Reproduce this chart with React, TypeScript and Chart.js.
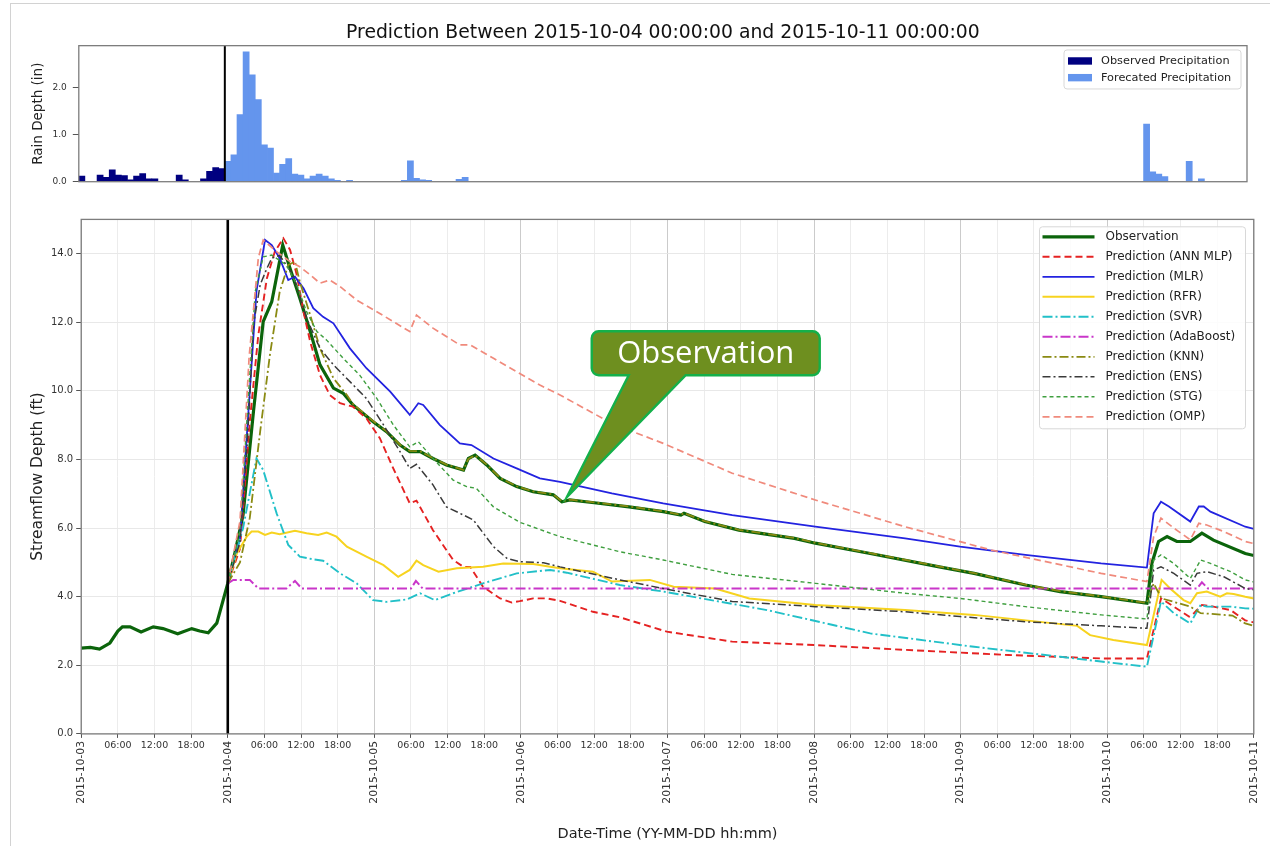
import React, { useEffect, useRef } from 'react';
import { Chart, registerables } from 'chart.js';

Chart.register(...registerables);

const FONT = "'DejaVu Sans', 'Liberation Sans', sans-serif";
const CALLOUT_FONT = "'Open Sans', 'Noto Sans', sans-serif";

// ---------- text ----------
const CHART_TITLE = 'Prediction Between 2015-10-04 00:00:00 and 2015-10-11 00:00:00';
const RAIN_AXIS_TITLE = 'Rain Depth (in)';
const FLOW_AXIS_TITLE = 'Streamflow Depth (ft)';
const TIME_AXIS_TITLE = 'Date-Time (YY-MM-DD hh:mm)';
const CALLOUT_TEXT = 'Observation';
const DAY_LABELS = ['2015-10-03', '2015-10-04', '2015-10-05', '2015-10-06', '2015-10-07', '2015-10-08', '2015-10-09', '2015-10-10', '2015-10-11'];
const HOUR_LABELS = ['06:00', '12:00', '18:00'];

// ---------- axis ranges (hours since 2015-10-03 00:00) ----------
const HOUR_MIN = 0;
const HOUR_MAX = 192;
const FORECAST_START_HOUR = 24;
const RAIN_MAX = 2.88;
const FLOW_MAX = 15;
const CALLOUT_TIP: [number, number] = [79.5, 6.9];

type Pt = [number, number];

// ---------- precipitation (hour, inches) ----------
const OBSERVED_PRECIP: Pt[] = [
  [0, 0.12], [3, 0.14], [4, 0.09], [5, 0.25], [6, 0.14], [7, 0.13], [8, 0.04], [9, 0.12], [10, 0.17],
  [11, 0.06], [12, 0.06], [16, 0.14], [17, 0.04], [20, 0.06], [21, 0.22], [22, 0.30], [23, 0.28],
];
const FORECAST_PRECIP: Pt[] = [
  [24, 0.43], [25, 0.57], [26, 1.42], [27, 2.75], [28, 2.26], [29, 1.74], [30, 0.78], [31, 0.71], [32, 0.18],
  [33, 0.37], [34, 0.49], [35, 0.16], [36, 0.14], [37, 0.06], [38, 0.12], [39, 0.16], [40, 0.12], [41, 0.06],
  [42, 0.03], [44, 0.03], [53, 0.03], [54, 0.44], [55, 0.07], [56, 0.04], [57, 0.03], [62, 0.05], [63, 0.09],
  [175, 1.22], [176, 0.21], [177, 0.16], [178, 0.11], [182, 0.43], [184, 0.06],
];

// ---------- streamflow depth (hour, ft) ----------
const OBSERVATION: Pt[] = [
  [0, 2.5], [1.5, 2.52], [3, 2.47], [4.7, 2.65], [6, 3.0], [6.75, 3.12], [8, 3.12], [9.8, 2.97], [11.8, 3.12],
  [13.4, 3.07], [15.8, 2.92], [18.1, 3.07], [19.4, 3.0], [20.8, 2.95], [22.2, 3.23], [24, 4.39], [25.2, 5.3],
  [26.5, 6.38], [28.2, 9.39], [29.8, 12.02], [31.2, 12.6], [33, 14.25], [34.2, 13.57], [35.8, 12.7], [37.5, 11.73],
  [39.1, 10.76], [41.3, 10.08], [42.9, 9.93], [44.5, 9.59], [47.8, 9.1], [50, 8.81], [52.2, 8.42], [53.8, 8.23],
  [55.5, 8.23], [57.6, 8.03], [59.8, 7.84], [62.6, 7.69], [63.4, 8.03], [64.5, 8.13], [66.4, 7.84], [68.6, 7.45],
  [71.3, 7.21], [74, 7.06], [77.3, 6.97], [78.7, 6.77], [80, 6.82], [84, 6.74], [89.7, 6.62], [95.3, 6.48],
  [98.2, 6.38], [98.7, 6.43], [102.1, 6.19], [107.7, 5.94], [116.8, 5.7], [120.2, 5.56], [129.2, 5.26],
  [140.5, 4.87], [146.2, 4.68], [154.6, 4.34], [160.3, 4.15], [167, 4.0], [174.5, 3.81], [175.3, 4.97],
  [176.4, 5.61], [177.8, 5.75], [179.4, 5.61], [181.6, 5.61], [183.5, 5.85], [185.4, 5.65], [190.6, 5.26], [192, 5.2],
];
const ANN_MLP: Pt[] = [
  [24, 4.39], [26, 5.4], [27.6, 9.1], [29, 11.63], [30.4, 13.28], [31.7, 14.06], [33.1, 14.45], [34.2, 14.11],
  [35.3, 13.38], [36.4, 12.31], [37.5, 11.43], [39.1, 10.46], [40.7, 9.88], [42.4, 9.64], [44.5, 9.54], [46.7, 9.2],
  [48.9, 8.62], [51.1, 7.74], [53.8, 6.72], [54.9, 6.8], [57.6, 5.94], [60.9, 5.07], [62.6, 4.87], [63.7, 4.87],
  [65.8, 4.29], [68.6, 3.95], [70.5, 3.83], [71.8, 3.87], [74, 3.95], [76.2, 3.95], [78.4, 3.88], [83.8, 3.56],
  [88.2, 3.4], [95.9, 2.98], [106.6, 2.69], [120.2, 2.59], [134.9, 2.45], [151.8, 2.3], [167, 2.2], [174.5, 2.2],
  [176.8, 3.95], [178.9, 3.71], [181.4, 3.42], [182.2, 3.52], [183.5, 3.76], [185.4, 3.71], [188.2, 3.61],
  [190.6, 3.31], [192, 3.25],
];
const MLR: Pt[] = [
  [24, 4.39], [26, 5.7], [27.6, 9.98], [28.7, 12.9], [30.1, 14.4], [31.2, 14.25], [32.5, 13.87], [33.9, 13.23],
  [35, 13.33], [36.4, 12.99], [38, 12.41], [39.6, 12.16], [41.3, 11.97], [44, 11.24], [46.7, 10.66], [50.6, 9.98],
  [53.8, 9.3], [55.2, 9.64], [56, 9.59], [58.7, 9.01], [62, 8.47], [63.9, 8.42], [67.5, 8.03], [71.3, 7.74],
  [75.1, 7.45], [78.4, 7.35], [86.9, 7.01], [95.3, 6.72], [106.6, 6.38], [120.2, 6.04], [134.9, 5.7], [143.9, 5.46],
  [154.6, 5.22], [167, 4.97], [174.5, 4.85], [175.6, 6.43], [176.8, 6.77], [178.1, 6.63], [181.6, 6.19], [183, 6.63],
  [183.8, 6.63], [184.9, 6.48], [190.6, 6.04], [192, 5.98],
];
const RFR: Pt[] = [
  [24, 4.39], [25.5, 5.27], [27.1, 5.75], [27.9, 5.9], [29, 5.9], [30.1, 5.8], [31.2, 5.87], [32.5, 5.82], [35, 5.92],
  [36.9, 5.85], [38.8, 5.8], [40.2, 5.87], [41.8, 5.75], [43.5, 5.46], [46.7, 5.17], [49.5, 4.92], [51.9, 4.58],
  [53.8, 4.78], [54.9, 5.05], [56, 4.92], [58.5, 4.73], [61.5, 4.83], [65.8, 4.87], [69.1, 4.97], [74, 4.95],
  [76.8, 4.87], [78.4, 4.83], [83.8, 4.73], [86.9, 4.44], [93.1, 4.49], [97, 4.29], [103.8, 4.24], [109.4, 3.95],
  [120.2, 3.76], [134.9, 3.61], [146.2, 3.47], [163.1, 3.15], [165.2, 2.88], [169, 2.74], [174.5, 2.59],
  [176.9, 4.49], [178.3, 4.24], [180.5, 3.9], [181.6, 3.81], [182.7, 4.1], [184.3, 4.15], [186.5, 4.0],
  [187.6, 4.1], [188.7, 4.08], [190.6, 4.0], [192, 3.95],
];
const SVR: Pt[] = [
  [24, 4.39], [26.5, 6.0], [28.7, 8.03], [29.8, 7.69], [32, 6.43], [33.9, 5.51], [35.8, 5.17], [38, 5.09],
  [39.6, 5.05], [42.4, 4.68], [45.1, 4.39], [47.8, 3.9], [50, 3.85], [53.3, 3.92], [55.5, 4.1], [57.9, 3.9],
  [60.9, 4.1], [65.8, 4.39], [71.3, 4.68], [76.8, 4.78], [79.5, 4.7], [88.2, 4.34], [95.3, 4.15], [112.3, 3.61],
  [129.2, 2.93], [146.2, 2.54], [160.3, 2.25], [167, 2.11], [174.5, 1.96], [176.8, 3.86], [178.9, 3.52],
  [181.6, 3.22], [183.3, 3.76], [184.3, 3.71], [188.2, 3.71], [190.6, 3.66], [192, 3.65],
];
const ADABOOST: Pt[] = [
  [24, 4.39], [24.9, 4.49], [27.6, 4.49], [29, 4.24], [33.6, 4.24], [35, 4.46], [36.1, 4.24], [54, 4.24],
  [54.8, 4.46], [55.9, 4.24], [175, 4.24], [182.7, 4.24], [183.5, 4.42], [184.5, 4.24], [192, 4.24],
];
const KNN: Pt[] = [
  [24, 4.39], [26, 5.0], [27.6, 6.29], [29.3, 8.81], [30.9, 11.05], [32.5, 12.89], [33.9, 13.67], [35, 13.77],
  [35.8, 13.18], [37.5, 12.21], [39.1, 11.24], [41.3, 10.37], [43.5, 9.88], [44.5, 9.62], [47.8, 9.12], [50, 8.82],
  [52.2, 8.43], [53.8, 8.25], [55.5, 8.24], [57.6, 8.04], [59.8, 7.85], [62.6, 7.7], [63.4, 8.02], [64.5, 8.12],
  [66.4, 7.85], [68.6, 7.46], [71.3, 7.22], [74, 7.07], [77.3, 6.98], [78.7, 6.78], [80, 6.83], [84, 6.75],
  [89.7, 6.63], [95.3, 6.49], [98.2, 6.39], [98.7, 6.44], [102.1, 6.2], [107.7, 5.95], [116.8, 5.71], [120.2, 5.57],
  [129.2, 5.27], [140.5, 4.88], [146.2, 4.69], [154.6, 4.35], [160.3, 4.16], [167, 4.01], [174.5, 3.82],
  [175.6, 4.39], [176.9, 3.95], [178.9, 3.85], [181.6, 3.71], [183.3, 3.52], [185, 3.5], [187.1, 3.47],
  [188.5, 3.45], [190.6, 3.22], [192, 3.15],
];
const ENS: Pt[] = [
  [24, 4.39], [26, 5.6], [27.2, 8.5], [28.2, 11.92], [29.3, 13.09], [30.4, 13.57], [31.2, 13.87], [32.5, 13.95],
  [34.7, 13.38], [36.9, 12.12], [39.1, 11.24], [41.3, 10.76], [44, 10.27], [46.7, 9.78], [49.5, 9.01], [52.2, 8.23],
  [53.8, 7.74], [54.9, 7.86], [57.6, 7.26], [59.8, 6.62], [62.6, 6.38], [64.2, 6.24], [67.5, 5.46], [69.7, 5.12],
  [71.8, 5.02], [75.7, 4.99], [78.4, 4.87], [88.2, 4.49], [95.3, 4.24], [106.6, 3.86], [120.2, 3.71],
  [134.9, 3.56], [143.9, 3.42], [154.6, 3.27], [167, 3.15], [174.5, 3.08], [175.6, 4.78], [176.8, 4.87],
  [178.9, 4.68], [181.6, 4.34], [182.7, 4.68], [184.3, 4.73], [187.1, 4.58], [190.6, 4.24], [192, 4.2],
];
const STG: Pt[] = [
  [24, 4.39], [26, 5.9], [27.5, 10.2], [28.5, 12.9], [29.8, 13.91], [31.2, 13.96], [33.6, 13.67], [35.3, 13.1],
  [36.9, 12.31], [38.6, 11.73], [40.2, 11.48], [42.9, 10.95], [45.6, 10.46], [48.4, 9.78], [51.1, 9.01],
  [53.8, 8.37], [55.2, 8.52], [57.6, 8.03], [60.9, 7.4], [63.1, 7.21], [64.7, 7.16], [67.5, 6.62], [71.8, 6.17],
  [78.4, 5.75], [88.2, 5.31], [95.3, 5.07], [106.6, 4.65], [120.2, 4.39], [134.9, 4.1], [143.9, 3.95],
  [154.6, 3.71], [167, 3.47], [174.5, 3.35], [175.6, 5.07], [176.8, 5.22], [178.9, 4.97], [181.6, 4.53],
  [183.3, 5.07], [184.9, 4.97], [188.2, 4.73], [190.6, 4.49], [192, 4.43],
];
const OMP: Pt[] = [
  [24, 4.39], [26, 6.2], [27.5, 11.0], [29, 13.87], [29.8, 14.4], [32, 14.06], [34.2, 13.77], [35.8, 13.62],
  [37.5, 13.38], [39.1, 13.14], [40.7, 13.23], [42.4, 13.04], [45.1, 12.65], [48.4, 12.31], [51.1, 12.02],
  [53.8, 11.73], [54.9, 12.21], [57.6, 11.83], [62, 11.34], [63.7, 11.34], [67.5, 10.95], [75.1, 10.17],
  [78.4, 9.88], [86.9, 9.05], [95.3, 8.47], [106.6, 7.6], [120.2, 6.82], [134.9, 6.04], [149, 5.36], [167, 4.68],
  [174.5, 4.44], [175.6, 5.75], [176.8, 6.29], [178.9, 6.0], [181.6, 5.66], [183, 6.14], [184.3, 6.09],
  [187.1, 5.9], [190.6, 5.61], [192, 5.55],
];

// ---------- series styling ----------
const FLOW_SERIES = [
  { label: 'Observation', data: OBSERVATION, color: '#0b640b', width: 3.2, dash: [] as number[] },
  { label: 'Prediction (ANN MLP)', data: ANN_MLP, color: '#e52222', width: 1.9, dash: [7, 4] },
  { label: 'Prediction (MLR)', data: MLR, color: '#2323e0', width: 1.8, dash: [] as number[] },
  { label: 'Prediction (RFR)', data: RFR, color: '#f7d31f', width: 2.0, dash: [] as number[] },
  { label: 'Prediction (SVR)', data: SVR, color: '#22c0c8', width: 1.9, dash: [10, 3, 2, 3] },
  { label: 'Prediction (AdaBoost)', data: ADABOOST, color: '#c936c9', width: 2.0, dash: [10, 3, 2, 3] },
  { label: 'Prediction (KNN)', data: KNN, color: '#8a8a12', width: 1.8, dash: [9, 3, 2, 3] },
  { label: 'Prediction (ENS)', data: ENS, color: '#3a3a3a', width: 1.5, dash: [8, 3, 2, 3] },
  { label: 'Prediction (STG)', data: STG, color: '#3f9f3f', width: 1.4, dash: [4, 3] },
  { label: 'Prediction (OMP)', data: OMP, color: '#f08a7c', width: 1.7, dash: [7, 4] },
];

const toXY = (pts: Pt[]) => pts.map(([x, y]) => ({ x, y }));
const toBars = (pts: Pt[]) => pts.map(([h, v]) => ({ x: h + 0.5, y: v }));

const hourLabel = (v: number) => {
  const m = v % 24;
  return m === 0 ? '' : HOUR_LABELS[m / 6 - 1] ?? '';
};
const dayLabel = (v: number) => (v % 24 === 0 ? DAY_LABELS[v / 24] ?? '' : '');

function roundRectPath(ctx: CanvasRenderingContext2D, x: number, y: number, w: number, h: number, r: number) {
  ctx.beginPath();
  ctx.moveTo(x + r, y);
  ctx.lineTo(x + w - r, y);
  ctx.arcTo(x + w, y, x + w, y + r, r);
  ctx.lineTo(x + w, y + h - r);
  ctx.arcTo(x + w, y + h, x + w - r, y + h, r);
  ctx.lineTo(x + r, y + h);
  ctx.arcTo(x, y + h, x, y + h - r, r);
  ctx.lineTo(x, y + r);
  ctx.arcTo(x, y, x + r, y, r);
  ctx.closePath();
}

function drawFrameAndForecastLine(chart: any, lineWidth: number) {
  const { ctx, chartArea } = chart;
  const xs = chart.scales.x;
  ctx.save();
  const fx = xs.getPixelForValue(FORECAST_START_HOUR);
  ctx.strokeStyle = '#000';
  ctx.lineWidth = lineWidth;
  ctx.beginPath();
  ctx.moveTo(fx, chartArea.top);
  ctx.lineTo(fx, chartArea.bottom);
  ctx.stroke();
  ctx.strokeStyle = '#7d7d7d';
  ctx.lineWidth = 1.3;
  ctx.strokeRect(chartArea.left, chartArea.top, chartArea.right - chartArea.left, chartArea.bottom - chartArea.top);
  ctx.restore();
}

const rainDecorPlugin = {
  id: 'rainDecor',
  afterDraw(chart: any) {
    drawFrameAndForecastLine(chart, 2);
    const { ctx, chartArea } = chart;
    const w = 177, h = 39;
    const x0 = chartArea.right - 6 - w;
    const y0 = chartArea.top + 4.3;
    ctx.save();
    roundRectPath(ctx, x0, y0, w, h, 3);
    ctx.fillStyle = 'rgba(255,255,255,0.85)';
    ctx.fill();
    ctx.strokeStyle = '#d8d8d8';
    ctx.lineWidth = 1;
    ctx.stroke();
    chart.data.datasets.forEach((d: any, i: number) => {
      const cy = y0 + 11 + i * 16.7;
      ctx.fillStyle = d.backgroundColor;
      ctx.fillRect(x0 + 4, cy - 3.7, 24, 7.4);
      ctx.fillStyle = '#222';
      ctx.font = `11.3px ${FONT}`;
      ctx.textBaseline = 'middle';
      ctx.textAlign = 'left';
      ctx.fillText(d.label, x0 + 37, cy);
    });
    ctx.restore();
  },
};

const flowDecorPlugin = {
  id: 'flowDecor',
  // the hh:mm axis takes no layout height (it shares its band with the date axis);
  // give its label clip box room after layout so its labels are visible
  afterLayout(chart: any) {
    const s = chart.scales.x;
    s.bottom = s.top + 24;
  },
  afterDraw(chart: any) {
    drawFrameAndForecastLine(chart, 2.6);
    const { ctx, chartArea } = chart;
    // legend
    const w = 206, h = 202;
    const x0 = chartArea.right - 8.3 - w;
    const y0 = chartArea.top + 7.4;
    ctx.save();
    roundRectPath(ctx, x0, y0, w, h, 3);
    ctx.fillStyle = 'rgba(255,255,255,0.85)';
    ctx.fill();
    ctx.strokeStyle = '#d8d8d8';
    ctx.lineWidth = 1;
    ctx.stroke();
    chart.data.datasets.forEach((d: any, i: number) => {
      const cy = y0 + 10 + i * 20;
      ctx.beginPath();
      ctx.setLineDash(d.borderDash || []);
      ctx.lineWidth = d.borderWidth;
      ctx.strokeStyle = d.borderColor;
      ctx.moveTo(x0 + 3, cy);
      ctx.lineTo(x0 + 55, cy);
      ctx.stroke();
      ctx.setLineDash([]);
      ctx.fillStyle = '#222';
      ctx.font = `12px ${FONT}`;
      ctx.textBaseline = 'middle';
      ctx.textAlign = 'left';
      ctx.fillText(d.label, x0 + 66, cy);
    });
    ctx.restore();

    // callout
    const tx = chart.scales.x.getPixelForValue(CALLOUT_TIP[0]);
    const ty = chart.scales.y.getPixelForValue(CALLOUT_TIP[1]);
    const L = tx + 25, R = tx + 253, T = ty - 166, B = ty - 122, r = 7;
    const b1 = tx + 62, b2 = tx + 119;
    ctx.save();
    ctx.beginPath();
    ctx.moveTo(L + r, T);
    ctx.lineTo(R - r, T);
    ctx.arcTo(R, T, R, T + r, r);
    ctx.lineTo(R, B - r);
    ctx.arcTo(R, B, R - r, B, r);
    ctx.lineTo(b2, B);
    ctx.lineTo(tx, ty);
    ctx.lineTo(b1, B);
    ctx.lineTo(L + r, B);
    ctx.arcTo(L, B, L, B - r, r);
    ctx.lineTo(L, T + r);
    ctx.arcTo(L, T, L + r, T, r);
    ctx.closePath();
    ctx.fillStyle = '#6e8f1f';
    ctx.fill();
    ctx.strokeStyle = '#14b04a';
    ctx.lineWidth = 2.4;
    ctx.stroke();
    ctx.fillStyle = '#ffffff';
    ctx.font = `31px ${CALLOUT_FONT}`;
    ctx.textAlign = 'center';
    ctx.textBaseline = 'middle';
    ctx.fillText(CALLOUT_TEXT, (L + R) / 2, (T + B) / 2 + 1);
    ctx.restore();
  },
};

export default function App() {
  const topRef = useRef<HTMLCanvasElement>(null);
  const bottomRef = useRef<HTMLCanvasElement>(null);

  useEffect(() => {
    if (!topRef.current || !bottomRef.current) return;

    const rainChart = new Chart(topRef.current, {
      type: 'bar',
      data: {
        datasets: [
          {
            label: 'Observed Precipitation',
            data: toBars(OBSERVED_PRECIP),
            backgroundColor: '#000080',
            borderWidth: 0,
            grouped: false,
            barPercentage: 1,
            categoryPercentage: 1,
          } as any,
          {
            label: 'Forecated Precipitation',
            data: toBars(FORECAST_PRECIP),
            backgroundColor: '#6495ed',
            borderWidth: 0,
            grouped: false,
            barPercentage: 1,
            categoryPercentage: 1,
          } as any,
        ],
      },
      options: {
        responsive: false,
        animation: false,
        layout: { padding: { top: 0, right: 23, bottom: 0, left: 0 } },
        plugins: {
          legend: { display: false },
          tooltip: { enabled: false },
          title: {
            display: true,
            text: CHART_TITLE,
            fullSize: false,
            color: '#111',
            font: { family: FONT, size: 18.8, weight: 'normal' },
            padding: { top: 22, bottom: 1.1 },
          },
        },
        scales: {
          x: {
            type: 'linear',
            min: HOUR_MIN,
            max: HOUR_MAX,
            offset: false,
            ticks: { display: false },
            grid: { display: false, drawTicks: false },
            border: { display: false },
            afterFit: (s: any) => { s.height = 14.3; },
          },
          y: {
            min: 0,
            max: RAIN_MAX,
            ticks: {
              stepSize: 1,
              includeBounds: false,
              callback: (v: any) => Number(v).toFixed(1),
              font: { family: FONT, size: 9 },
              color: '#333',
              padding: 6,
            },
            grid: { display: true, drawOnChartArea: false, drawTicks: true, tickLength: 6, tickColor: '#555' },
            border: { display: false },
            title: {
              display: true,
              text: RAIN_AXIS_TITLE,
              color: '#222',
              font: { family: FONT, size: 13.5 },
              padding: { top: 30.7, bottom: 0 },
            },
            afterFit: (s: any) => { s.width = 78.8; },
          },
        },
      } as any,
      plugins: [rainDecorPlugin],
    });

    const n = FLOW_SERIES.length;
    const flowChart = new Chart(bottomRef.current, {
      type: 'line',
      data: {
        datasets: FLOW_SERIES.map((s, i) => ({
          label: s.label,
          data: toXY(s.data),
          borderColor: s.color,
          backgroundColor: s.color,
          borderWidth: s.width,
          borderDash: s.dash,
          pointRadius: 0,
          tension: 0,
          fill: false,
          order: n - 1 - i,
        })),
      },
      options: {
        responsive: false,
        animation: false,
        layout: { padding: { top: 23.4, right: 16.2, bottom: 0, left: 0 } },
        plugins: { legend: { display: false }, tooltip: { enabled: false } },
        scales: {
          x: {
            type: 'linear',
            position: 'bottom',
            weight: 0,
            min: HOUR_MIN,
            max: HOUR_MAX,
            ticks: {
              stepSize: 6,
              autoSkip: false,
              minRotation: 0,
              maxRotation: 0,
              callback: (v: any) => hourLabel(Number(v)),
              font: { family: FONT, size: 9.5 },
              color: '#333',
              padding: 2,
            },
            grid: {
              color: (c: any) => (c.tick && c.tick.value % 24 === 0 ? '#cbcbcb' : '#ececec'),
              lineWidth: 1,
              tickLength: 4,
              tickColor: '#555',
            },
            border: { display: false },
            afterFit: (s: any) => { s.height = 0; },
          },
          xDate: {
            type: 'linear',
            position: 'bottom',
            weight: 1,
            min: HOUR_MIN,
            max: HOUR_MAX,
            ticks: {
              stepSize: 24,
              autoSkip: false,
              minRotation: 90,
              maxRotation: 90,
              callback: (v: any) => dayLabel(Number(v)),
              font: { family: FONT, size: 10.8, lineHeight: 0.01 },
              color: '#333',
              padding: 3,
            },
            grid: { display: false, drawTicks: true, tickLength: 4 },
            border: { display: false },
            title: {
              display: true,
              text: TIME_AXIS_TITLE,
              color: '#222',
              font: { family: FONT, size: 14.5 },
              padding: { top: 0, bottom: 3.3 },
            },
            afterFit: (s: any) => { s.height = 112.1; },
          },
          y: {
            min: 0,
            max: FLOW_MAX,
            ticks: {
              stepSize: 2,
              includeBounds: false,
              callback: (v: any) => Number(v).toFixed(1),
              font: { family: FONT, size: 10 },
              color: '#333',
              padding: 3,
            },
            grid: { color: '#e8e8e8', lineWidth: 1, tickLength: 5, tickColor: '#555' },
            border: { display: false },
            title: {
              display: true,
              text: FLOW_AXIS_TITLE,
              color: '#222',
              font: { family: FONT, size: 15.5 },
              padding: { top: 28.7, bottom: 0 },
            },
            afterFit: (s: any) => { s.width = 81.2; },
          },
        },
      } as any,
      plugins: [flowDecorPlugin],
    });

    return () => {
      rainChart.destroy();
      flowChart.destroy();
    };
  }, []);

  return (
    <div style={{ position: 'absolute', left: 0, top: 0, width: 1270, height: 846, overflow: 'hidden', background: '#fff' }}>
      <div
        style={{
          position: 'absolute', left: 10, top: 3, right: 0, bottom: 0,
          borderLeft: '1px solid #d2d2d2', borderTop: '1px solid #d2d2d2',
        }}
      />
      <canvas ref={topRef} width={1270} height={196} style={{ position: 'absolute', left: 0, top: 0 }} />
      <canvas ref={bottomRef} width={1270} height={650} style={{ position: 'absolute', left: 0, top: 196 }} />
    </div>
  );
}
